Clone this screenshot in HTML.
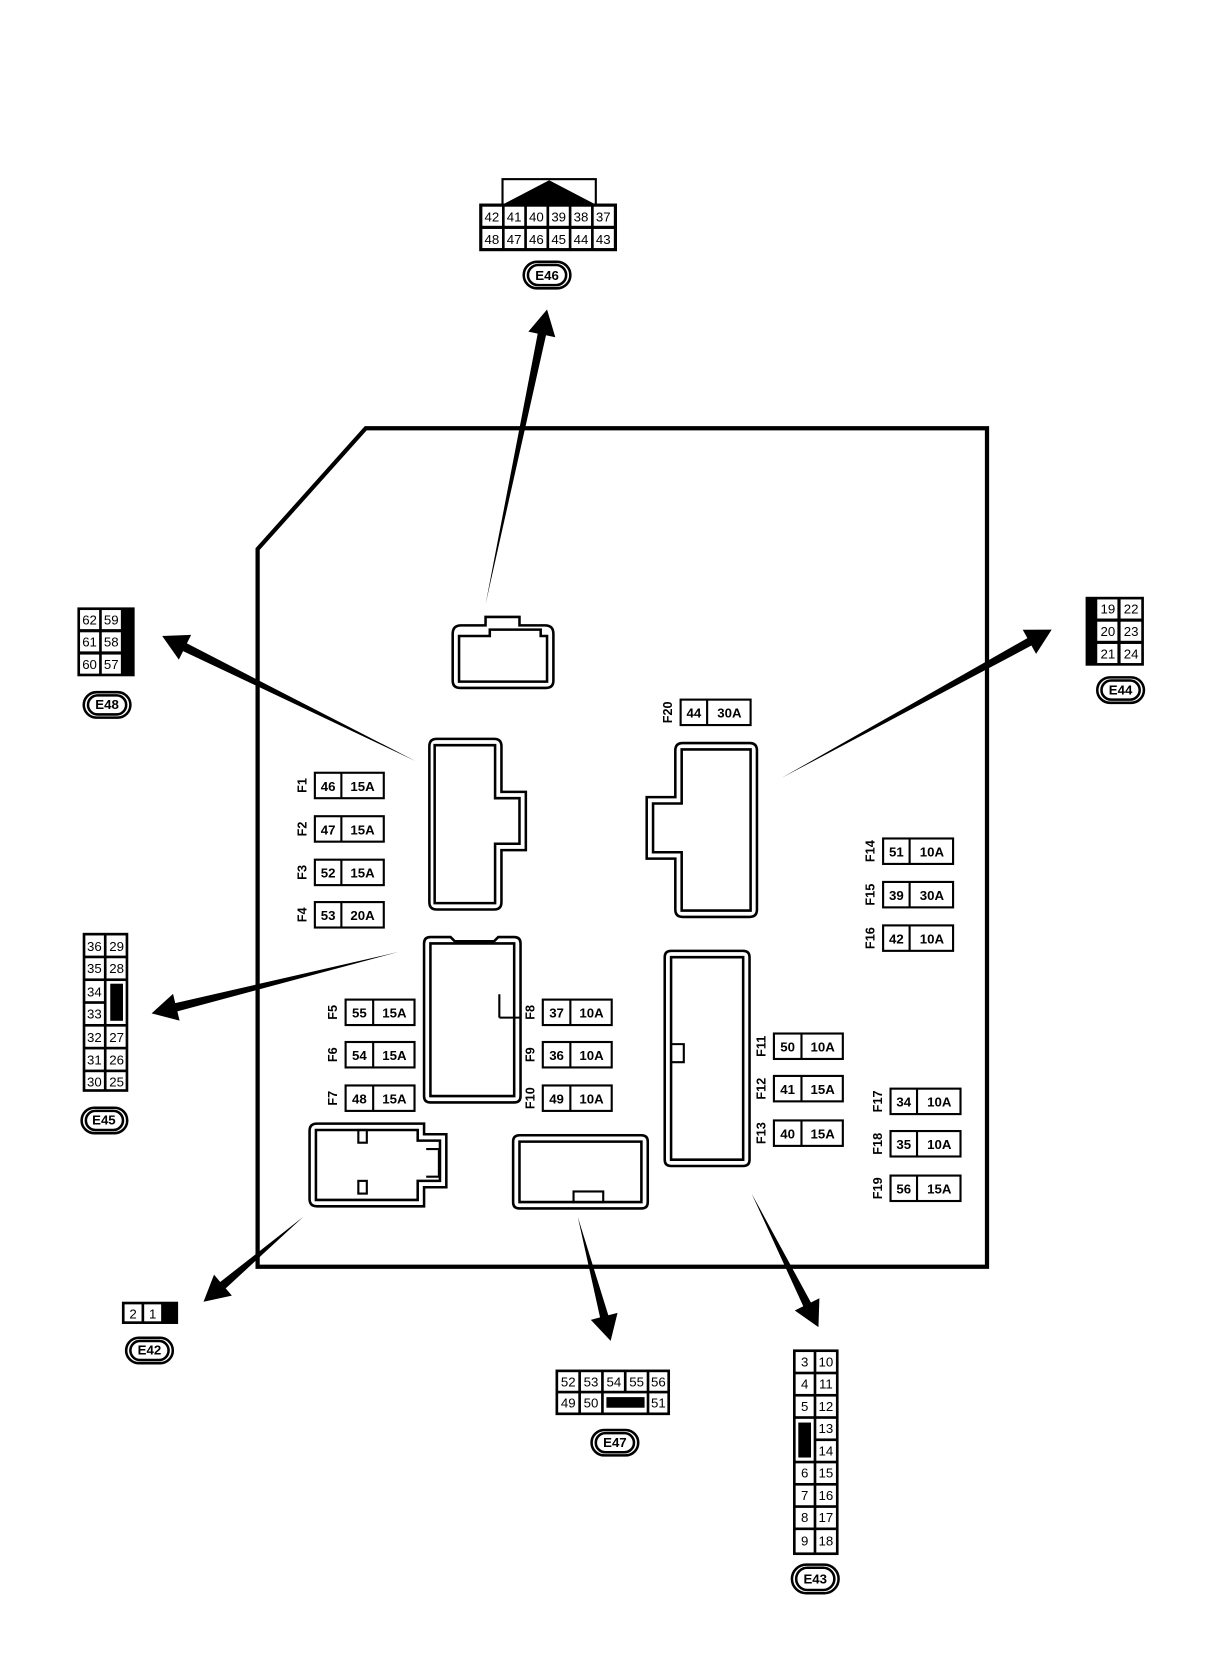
<!DOCTYPE html>
<html><head><meta charset="utf-8"><style>
html,body{margin:0;padding:0;background:#fff;}
svg{display:block;}
text{font-family:"Liberation Sans",sans-serif;fill:#000;}
.c{font-size:12.5px;text-anchor:middle;}
.f{font-size:12.5px;font-weight:bold;text-anchor:middle;}
.fl{font-size:12px;font-weight:bold;text-anchor:middle;}
.b{fill:#fff;stroke:#000;stroke-width:2;}
.k{fill:#000;}
.o{fill:none;stroke:#000;stroke-width:2.4;}
</style></head><body>
<svg width="1216" height="1660" viewBox="0 0 1147 1566" preserveAspectRatio="none">
<rect x="0" y="0" width="1147" height="1566" fill="#fff"/>
<!-- main box -->
<polygon points="345,404 931,404 931,1195 243,1195 243,518" fill="none" stroke="#000" stroke-width="4"/>

<!-- arrows -->
<g class="k">
<polygon points="458,570 515,316.3 523.8,318.2 516,292 498.4,312.8 507.2,314.7"/>
<polygon points="392,718 176.3,607 180.3,598.9 153,600 168.7,622.3 172.7,614.2"/>
<polygon points="737,734 972.9,609 977.3,616.9 992,594 964.7,594.1 969.1,602"/>
<polygon points="376,898 165.3,946.3 163.2,937.6 143,956 169.4,962.8 167.3,954.1"/>
<polygon points="286,1148 207.7,1209.4 201.9,1202.5 192,1228 218.7,1222.3 212.9,1215.4"/>
<polygon points="545,1148 573.8,1240.8 582.5,1238.5 576,1265 557.3,1245.1 566,1242.8"/>
<polygon points="709,1126 764.9,1228.7 772.9,1224.7 772,1252 749.7,1236.3 757.7,1232.3"/>
</g>

<!-- E46 -->
<rect x="474" y="169" width="88" height="24" fill="#fff" stroke="#000" stroke-width="2"/>
<polygon points="476,192 518,170 560,192" class="k"/>
<rect x="452" y="192" width="130" height="45" fill="#000"/>
<g>
<rect x="455" y="195" width="18.5" height="18" fill="#fff"/><rect x="476" y="195" width="18.5" height="18" fill="#fff"/><rect x="497" y="195" width="18.5" height="18" fill="#fff"/><rect x="518" y="195" width="18.5" height="18" fill="#fff"/><rect x="539" y="195" width="18.5" height="18" fill="#fff"/><rect x="560" y="195" width="19" height="18" fill="#fff"/>
<rect x="455" y="216" width="18.5" height="18" fill="#fff"/><rect x="476" y="216" width="18.5" height="18" fill="#fff"/><rect x="497" y="216" width="18.5" height="18" fill="#fff"/><rect x="518" y="216" width="18.5" height="18" fill="#fff"/><rect x="539" y="216" width="18.5" height="18" fill="#fff"/><rect x="560" y="216" width="19" height="18" fill="#fff"/>
</g>
<text class="c" x="464" y="209">42</text><text class="c" x="485" y="209">41</text><text class="c" x="506" y="209">40</text><text class="c" x="527" y="209">39</text><text class="c" x="548" y="209">38</text><text class="c" x="569" y="209">37</text>
<text class="c" x="464" y="230">48</text><text class="c" x="485" y="230">47</text><text class="c" x="506" y="230">46</text><text class="c" x="527" y="230">45</text><text class="c" x="548" y="230">44</text><text class="c" x="569" y="230">43</text>
<rect x="494" y="247" width="44" height="25" rx="12.5" class="o"/><rect x="498" y="250" width="36" height="19" rx="9.5" class="o" stroke-width="1.5"/>
<text class="f" x="516" y="264" font-size="11">E46</text>

<!-- E48 -->
<rect x="73" y="573" width="54" height="65" fill="#000"/>
<rect x="75.5" y="575.5" width="18" height="18" fill="#fff"/><rect x="96" y="575.5" width="18" height="18" fill="#fff"/>
<rect x="75.5" y="596.5" width="18" height="18" fill="#fff"/><rect x="96" y="596.5" width="18" height="18" fill="#fff"/>
<rect x="75.5" y="617.5" width="18" height="18" fill="#fff"/><rect x="96" y="617.5" width="18" height="18" fill="#fff"/>
<text class="c" x="84.5" y="589">62</text><text class="c" x="105" y="589">59</text>
<text class="c" x="84.5" y="610">61</text><text class="c" x="105" y="610">58</text>
<text class="c" x="84.5" y="631">60</text><text class="c" x="105" y="631">57</text>
<rect x="79" y="653" width="44" height="24" rx="12" class="o"/><rect x="83" y="656" width="36" height="18" rx="9" class="o" stroke-width="1.5"/>
<text class="f" x="101" y="669" font-size="11">E48</text>

<!-- E44 -->
<rect x="1024" y="563" width="55" height="65" fill="#000"/>
<rect x="1035" y="565.5" width="19" height="18" fill="#fff"/><rect x="1057" y="565.5" width="19.5" height="18" fill="#fff"/>
<rect x="1035" y="586.5" width="19" height="18" fill="#fff"/><rect x="1057" y="586.5" width="19.5" height="18" fill="#fff"/>
<rect x="1035" y="607.5" width="19" height="18" fill="#fff"/><rect x="1057" y="607.5" width="19.5" height="18" fill="#fff"/>
<text class="c" x="1045" y="579">19</text><text class="c" x="1067" y="579">22</text>
<text class="c" x="1045" y="600">20</text><text class="c" x="1067" y="600">23</text>
<text class="c" x="1045" y="621">21</text><text class="c" x="1067" y="621">24</text>
<rect x="1035" y="639" width="44" height="24" rx="12" class="o"/><rect x="1039" y="642" width="36" height="18" rx="9" class="o" stroke-width="1.5"/>
<text class="f" x="1057" y="655" font-size="11">E44</text>

<!-- E45 -->
<rect x="78" y="880" width="43" height="150" fill="#000"/>
<g fill="#fff">
<rect x="80.5" y="882.5" width="17.5" height="19"/><rect x="100.5" y="882.5" width="18" height="19"/>
<rect x="80.5" y="904" width="17.5" height="19"/><rect x="100.5" y="904" width="18" height="19"/>
<rect x="80.5" y="925.5" width="17.5" height="19"/>
<rect x="80.5" y="947" width="17.5" height="19"/>
<rect x="100.5" y="925.5" width="18" height="40.5"/>
<rect x="80.5" y="968.5" width="17.5" height="19"/><rect x="100.5" y="968.5" width="18" height="19"/>
<rect x="80.5" y="990" width="17.5" height="19"/><rect x="100.5" y="990" width="18" height="19"/>
<rect x="80.5" y="1011.5" width="17.5" height="16"/><rect x="100.5" y="1011.5" width="18" height="16"/>
</g>
<rect x="104" y="928" width="12" height="35" fill="#000"/>
<text class="c" x="89" y="897">36</text><text class="c" x="110" y="897">29</text>
<text class="c" x="89" y="918">35</text><text class="c" x="110" y="918">28</text>
<text class="c" x="89" y="940">34</text>
<text class="c" x="89" y="961">33</text>
<text class="c" x="89" y="983">32</text><text class="c" x="110" y="983">27</text>
<text class="c" x="89" y="1004">31</text><text class="c" x="110" y="1004">26</text>
<text class="c" x="89" y="1025">30</text><text class="c" x="110" y="1025">25</text>
<rect x="77" y="1045" width="43" height="24" rx="12" class="o"/><rect x="81" y="1048" width="35" height="18" rx="9" class="o" stroke-width="1.5"/>
<text class="f" x="98" y="1061" font-size="11">E45</text>

<!-- E42 -->
<rect x="115" y="1228" width="53" height="21" fill="#000"/>
<rect x="117.5" y="1230.5" width="16" height="16" fill="#fff"/><rect x="136" y="1230.5" width="16" height="16" fill="#fff"/>
<text class="c" x="125.5" y="1244">2</text><text class="c" x="144" y="1244">1</text>
<rect x="119" y="1262" width="44" height="24" rx="12" class="o"/><rect x="123" y="1265" width="36" height="18" rx="9" class="o" stroke-width="1.5"/>
<text class="f" x="141" y="1278" font-size="11">E42</text>

<!-- E47 -->
<rect x="524" y="1292" width="108" height="43" fill="#000"/>
<g fill="#fff">
<rect x="526.5" y="1294.5" width="19" height="17.5"/><rect x="548" y="1294.5" width="19" height="17.5"/><rect x="569.5" y="1294.5" width="19" height="17.5"/><rect x="591" y="1294.5" width="19" height="17.5"/><rect x="612.5" y="1294.5" width="17" height="17.5"/>
<rect x="526.5" y="1314.5" width="19" height="18"/><rect x="548" y="1314.5" width="19" height="18"/><rect x="569.5" y="1314.5" width="40.5" height="18"/><rect x="612.5" y="1314.5" width="17" height="18"/>
</g>
<rect x="572" y="1318" width="36" height="10" fill="#000"/>
<text class="c" x="536" y="1308">52</text><text class="c" x="557.5" y="1308">53</text><text class="c" x="579" y="1308">54</text><text class="c" x="600.5" y="1308">55</text><text class="c" x="621" y="1308">56</text>
<text class="c" x="536" y="1328">49</text><text class="c" x="557.5" y="1328">50</text><text class="c" x="621" y="1328">51</text>
<rect x="558" y="1349" width="44" height="24" rx="12" class="o"/><rect x="562" y="1352" width="36" height="18" rx="9" class="o" stroke-width="1.5"/>
<text class="f" x="580" y="1365" font-size="11">E47</text>

<!-- E43 -->
<rect x="748" y="1273" width="43" height="194" fill="#000"/>
<g fill="#fff">
<rect x="750.5" y="1275.5" width="17" height="18.5"/><rect x="770" y="1275.5" width="18.5" height="18.5"/>
<rect x="750.5" y="1296.5" width="17" height="18.5"/><rect x="770" y="1296.5" width="18.5" height="18.5"/>
<rect x="750.5" y="1317.5" width="17" height="18.5"/><rect x="770" y="1317.5" width="18.5" height="18.5"/>
<rect x="750.5" y="1338.5" width="17" height="39.5"/><rect x="770" y="1338.5" width="18.5" height="18.5"/>
<rect x="770" y="1359.5" width="18.5" height="18.5"/>
<rect x="750.5" y="1380.5" width="17" height="18.5"/><rect x="770" y="1380.5" width="18.5" height="18.5"/>
<rect x="750.5" y="1401.5" width="17" height="18.5"/><rect x="770" y="1401.5" width="18.5" height="18.5"/>
<rect x="750.5" y="1422.5" width="17" height="18.5"/><rect x="770" y="1422.5" width="18.5" height="18.5"/>
<rect x="750.5" y="1443.5" width="17" height="21"/><rect x="770" y="1443.5" width="18.5" height="21"/>
</g>
<rect x="753" y="1342" width="12" height="33" fill="#000"/>
<text class="c" x="759" y="1289">3</text><text class="c" x="779" y="1289">10</text>
<text class="c" x="759" y="1310">4</text><text class="c" x="779" y="1310">11</text>
<text class="c" x="759" y="1331">5</text><text class="c" x="779" y="1331">12</text>
<text class="c" x="779" y="1352">13</text>
<text class="c" x="779" y="1373">14</text>
<text class="c" x="759" y="1394">6</text><text class="c" x="779" y="1394">15</text>
<text class="c" x="759" y="1415">7</text><text class="c" x="779" y="1415">16</text>
<text class="c" x="759" y="1436">8</text><text class="c" x="779" y="1436">17</text>
<text class="c" x="759" y="1458">9</text><text class="c" x="779" y="1458">18</text>
<rect x="747" y="1476" width="44" height="27" rx="13.5" class="o"/><rect x="751" y="1479" width="36" height="21" rx="10.5" class="o" stroke-width="1.5"/>
<text class="f" x="769" y="1494" font-size="11">E43</text>

<!-- internal connectors -->
<g class="o">
<path d="M427,598 Q427,590 435,590 L458,590 L458,582 L490,582 L490,590 L514,590 Q522,590 522,598 L522,642 Q522,649 515,649 L434,649 Q427,649 427,642 Z"/>
<path d="M433,600 L462,600 L462,594 L510,594 L510,600 L516,600 L516,643 L433,643 Z"/>
<path d="M405,704 Q405,697 412,697 L466,697 Q473,697 473,704 L473,747 L496,747 L496,802 L473,802 L473,851 Q473,858 466,858 L412,858 Q405,858 405,851 Z"/>
<path d="M410,703 L467,703 L467,753 L490,753 L490,796 L467,796 L467,852 L410,852 Z"/>
<path d="M644,701 L707,701 Q714,701 714,708 L714,858 Q714,865 707,865 L644,865 Q637,865 637,858 L637,810 L610,810 L610,752 L637,752 L637,708 Q637,701 644,701 Z"/>
<path d="M643,707 L708,707 L708,859 L643,859 L643,804 L616,804 L616,758 L643,758 Z"/>
<path d="M406,884 L425,884 L429,888 L466,888 L470,884 L485,884 Q491,884 491,890 L491,1034 Q491,1040 485,1040 L406,1040 Q400,1040 400,1034 L400,890 Q400,884 406,884 Z"/>
<path d="M406,890 L485,890 L485,1034 L406,1034 Z"/>
<path d="M633,897 L701,897 Q707,897 707,903 L707,1094 Q707,1100 701,1100 L633,1100 Q627,1100 627,1094 L627,903 Q627,897 633,897 Z"/>
<path d="M633,903 L701,903 L701,1094 L633,1094 Z"/>
<path d="M299,1060 L400,1060 L400,1070 L421,1070 L421,1120 L400,1120 L400,1138 L299,1138 Q292,1138 292,1131 L292,1067 Q292,1060 299,1060 Z"/>
<path d="M298,1066 L394,1066 L394,1076 L415,1076 L415,1114 L394,1114 L394,1132 L298,1132 Z"/>
<path d="M490,1071 L605,1071 Q611,1071 611,1077 L611,1134 Q611,1140 605,1140 L490,1140 Q484,1140 484,1134 L484,1077 Q484,1071 490,1071 Z"/>
<path d="M490,1077 L605,1077 L605,1134 L490,1134 Z"/>
</g>
<g fill="none" stroke="#000" stroke-width="2">
<path d="M471,938 L471,960 M490,960 L471,960"/>
<path d="M633,985 L645,985 L645,1002 L633,1002"/>
<rect x="338" y="1066" width="8" height="12"/><rect x="338" y="1114" width="8" height="12"/>
<path d="M402,1084 L414,1084 L414,1110 L402,1110"/>
<rect x="541" y="1124" width="28" height="10"/>
</g>

<!-- fuses -->
<g>
<g transform="translate(297,741)"><rect class="b" x="0" y="-12" width="65" height="24"/><line x1="25" y1="-12" x2="25" y2="12" stroke="#000" stroke-width="2"/><text class="f" x="12.5" y="5">46</text><text class="f" x="45" y="5">15A</text><text class="fl" transform="translate(-8,0) rotate(-90)">F1</text></g>
<g transform="translate(297,782)"><rect class="b" x="0" y="-12" width="65" height="24"/><line x1="25" y1="-12" x2="25" y2="12" stroke="#000" stroke-width="2"/><text class="f" x="12.5" y="5">47</text><text class="f" x="45" y="5">15A</text><text class="fl" transform="translate(-8,0) rotate(-90)">F2</text></g>
<g transform="translate(297,823)"><rect class="b" x="0" y="-12" width="65" height="24"/><line x1="25" y1="-12" x2="25" y2="12" stroke="#000" stroke-width="2"/><text class="f" x="12.5" y="5">52</text><text class="f" x="45" y="5">15A</text><text class="fl" transform="translate(-8,0) rotate(-90)">F3</text></g>
<g transform="translate(297,863)"><rect class="b" x="0" y="-12" width="65" height="24"/><line x1="25" y1="-12" x2="25" y2="12" stroke="#000" stroke-width="2"/><text class="f" x="12.5" y="5">53</text><text class="f" x="45" y="5">20A</text><text class="fl" transform="translate(-8,0) rotate(-90)">F4</text></g>

<g transform="translate(326,955)"><rect class="b" x="0" y="-12" width="65" height="24"/><line x1="26" y1="-12" x2="26" y2="12" stroke="#000" stroke-width="2"/><text class="f" x="13" y="5">55</text><text class="f" x="46" y="5">15A</text><text class="fl" transform="translate(-8,0) rotate(-90)">F5</text></g>
<g transform="translate(326,995)"><rect class="b" x="0" y="-12" width="65" height="24"/><line x1="26" y1="-12" x2="26" y2="12" stroke="#000" stroke-width="2"/><text class="f" x="13" y="5">54</text><text class="f" x="46" y="5">15A</text><text class="fl" transform="translate(-8,0) rotate(-90)">F6</text></g>
<g transform="translate(326,1036)"><rect class="b" x="0" y="-12" width="65" height="24"/><line x1="26" y1="-12" x2="26" y2="12" stroke="#000" stroke-width="2"/><text class="f" x="13" y="5">48</text><text class="f" x="46" y="5">15A</text><text class="fl" transform="translate(-8,0) rotate(-90)">F7</text></g>

<g transform="translate(512,955)"><rect class="b" x="0" y="-12" width="65" height="24"/><line x1="26" y1="-12" x2="26" y2="12" stroke="#000" stroke-width="2"/><text class="f" x="13" y="5">37</text><text class="f" x="46" y="5">10A</text><text class="fl" transform="translate(-8,0) rotate(-90)">F8</text></g>
<g transform="translate(512,995)"><rect class="b" x="0" y="-12" width="65" height="24"/><line x1="26" y1="-12" x2="26" y2="12" stroke="#000" stroke-width="2"/><text class="f" x="13" y="5">36</text><text class="f" x="46" y="5">10A</text><text class="fl" transform="translate(-8,0) rotate(-90)">F9</text></g>
<g transform="translate(512,1036)"><rect class="b" x="0" y="-12" width="65" height="24"/><line x1="26" y1="-12" x2="26" y2="12" stroke="#000" stroke-width="2"/><text class="f" x="13" y="5">49</text><text class="f" x="46" y="5">10A</text><text class="fl" transform="translate(-8,0) rotate(-90)">F10</text></g>

<g transform="translate(730,987)"><rect class="b" x="0" y="-12" width="65" height="24"/><line x1="26" y1="-12" x2="26" y2="12" stroke="#000" stroke-width="2"/><text class="f" x="13" y="5">50</text><text class="f" x="46" y="5">10A</text><text class="fl" transform="translate(-8,0) rotate(-90)">F11</text></g>
<g transform="translate(730,1027)"><rect class="b" x="0" y="-12" width="65" height="24"/><line x1="26" y1="-12" x2="26" y2="12" stroke="#000" stroke-width="2"/><text class="f" x="13" y="5">41</text><text class="f" x="46" y="5">15A</text><text class="fl" transform="translate(-8,0) rotate(-90)">F12</text></g>
<g transform="translate(730,1069)"><rect class="b" x="0" y="-12" width="65" height="24"/><line x1="26" y1="-12" x2="26" y2="12" stroke="#000" stroke-width="2"/><text class="f" x="13" y="5">40</text><text class="f" x="46" y="5">15A</text><text class="fl" transform="translate(-8,0) rotate(-90)">F13</text></g>

<g transform="translate(833,803)"><rect class="b" x="0" y="-12" width="66" height="24"/><line x1="25" y1="-12" x2="25" y2="12" stroke="#000" stroke-width="2"/><text class="f" x="12.5" y="5">51</text><text class="f" x="46" y="5">10A</text><text class="fl" transform="translate(-8,0) rotate(-90)">F14</text></g>
<g transform="translate(833,844)"><rect class="b" x="0" y="-12" width="66" height="24"/><line x1="25" y1="-12" x2="25" y2="12" stroke="#000" stroke-width="2"/><text class="f" x="12.5" y="5">39</text><text class="f" x="46" y="5">30A</text><text class="fl" transform="translate(-8,0) rotate(-90)">F15</text></g>
<g transform="translate(833,885)"><rect class="b" x="0" y="-12" width="66" height="24"/><line x1="25" y1="-12" x2="25" y2="12" stroke="#000" stroke-width="2"/><text class="f" x="12.5" y="5">42</text><text class="f" x="46" y="5">10A</text><text class="fl" transform="translate(-8,0) rotate(-90)">F16</text></g>

<g transform="translate(840,1039)"><rect class="b" x="0" y="-12" width="66" height="24"/><line x1="25" y1="-12" x2="25" y2="12" stroke="#000" stroke-width="2"/><text class="f" x="12.5" y="5">34</text><text class="f" x="46" y="5">10A</text><text class="fl" transform="translate(-8,0) rotate(-90)">F17</text></g>
<g transform="translate(840,1079)"><rect class="b" x="0" y="-12" width="66" height="24"/><line x1="25" y1="-12" x2="25" y2="12" stroke="#000" stroke-width="2"/><text class="f" x="12.5" y="5">35</text><text class="f" x="46" y="5">10A</text><text class="fl" transform="translate(-8,0) rotate(-90)">F18</text></g>
<g transform="translate(840,1121)"><rect class="b" x="0" y="-12" width="66" height="24"/><line x1="25" y1="-12" x2="25" y2="12" stroke="#000" stroke-width="2"/><text class="f" x="12.5" y="5">56</text><text class="f" x="46" y="5">15A</text><text class="fl" transform="translate(-8,0) rotate(-90)">F19</text></g>

<g transform="translate(642,672)"><rect class="b" x="0" y="-12" width="66" height="24"/><line x1="25" y1="-12" x2="25" y2="12" stroke="#000" stroke-width="2"/><text class="f" x="12.5" y="5">44</text><text class="f" x="46" y="5">30A</text><text class="fl" transform="translate(-8,0) rotate(-90)">F20</text></g>
</g>
</svg>
</body></html>
